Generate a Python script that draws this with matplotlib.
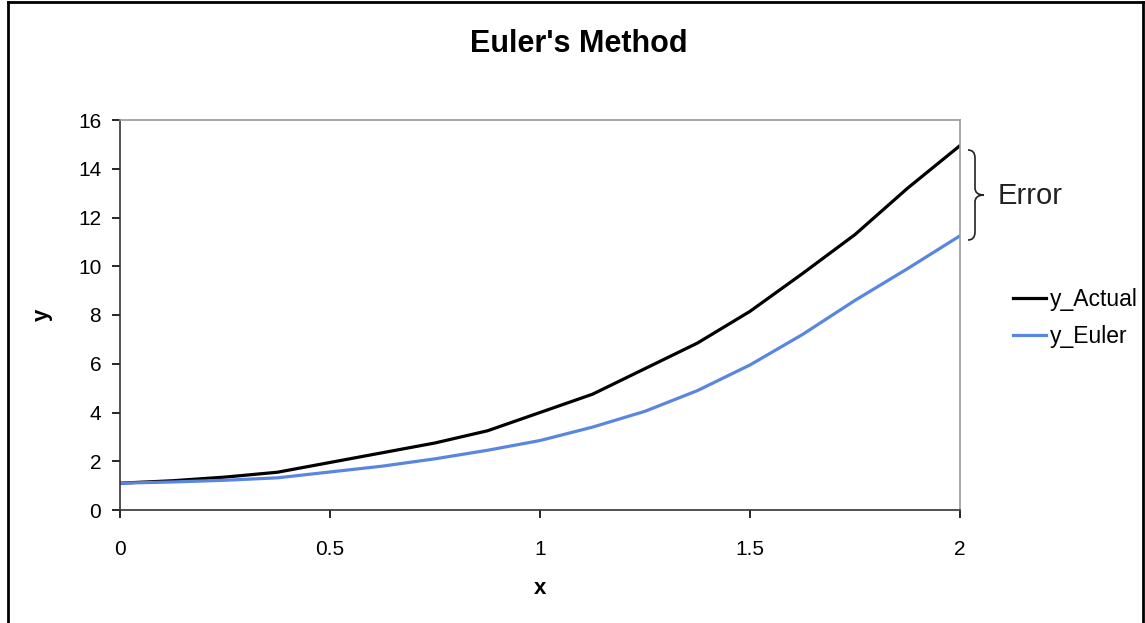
import matplotlib
matplotlib.use('Agg')
import matplotlib.pyplot as plt
from matplotlib.path import Path
from matplotlib.patches import PathPatch

x_vals = [0, 0.125, 0.25, 0.375, 0.5, 0.625, 0.75, 0.875, 1.0,
          1.125, 1.25, 1.375, 1.5, 1.625, 1.75, 1.875, 2.0]
y_actual = [1.1, 1.2, 1.35, 1.55, 1.95, 2.35, 2.75, 3.25, 4.0,
            4.75, 5.8, 6.85, 8.15, 9.7, 11.3, 13.2, 14.95]
y_euler = [1.1, 1.15, 1.22, 1.32, 1.56, 1.8, 2.1, 2.45, 2.85,
           3.4, 4.05, 4.9, 5.95, 7.2, 8.6, 9.9, 11.25]
x_ticks = [0, 0.5, 1, 1.5, 2]
x_tick_labels = ['0', '0.5', '1', '1.5', '2']
y_ticks = list(range(0, 17, 2))

plt.rcParams['font.family'] = ['Liberation Sans', 'DejaVu Sans']

W, H = 1145, 623
fig = plt.figure(figsize=(W / 100, H / 100), dpi=100)

def fx(px):
    return px / W

def fy(py):
    return 1 - py / H

ax = fig.add_axes([fx(120), fy(510), fx(960) - fx(120), fy(120) - fy(510)])

ax.plot(x_vals, y_actual, color='black', lw=2.3, label='y_Actual')
ax.plot(x_vals, y_euler, color='#5a86e0', lw=2.3, label='y_Euler')

ax.set_xlim(0, 2)
ax.set_ylim(0, 16)
ax.set_xticks(x_ticks)
ax.set_xticklabels(x_tick_labels)
ax.set_yticks(y_ticks)
ax.tick_params(axis='both', direction='out', length=5.5, width=1.2,
               labelsize=15, colors='black')
ax.tick_params(axis='y', pad=8)
ax.tick_params(axis='x', pad=16)
for side in ['left', 'bottom']:
    ax.spines[side].set_color('#333333')
    ax.spines[side].set_linewidth(1.2)
for side in ['top', 'right']:
    ax.spines[side].set_color('#999999')
    ax.spines[side].set_linewidth(1.2)

fig.text(fx(579), fy(44), "Euler's Method", ha='center', va='center',
         fontsize=22, fontweight='bold')
fig.text(fx(42), fy(315), 'y', ha='center', va='center', rotation=90,
         fontsize=16, fontweight='bold')
fig.text(fx(540), fy(589), 'x', ha='center', va='center',
         fontsize=16, fontweight='bold')

# brace marking the error at x = 2
verts = [(968, 150), (975, 150), (975, 158),
         (975, 188),
         (975, 195), (984, 195),
         (975, 195), (975, 202),
         (975, 232),
         (975, 240), (968, 240)]
codes = [Path.MOVETO, Path.CURVE3, Path.CURVE3,
         Path.LINETO,
         Path.CURVE3, Path.CURVE3,
         Path.CURVE3, Path.CURVE3,
         Path.LINETO,
         Path.CURVE3, Path.CURVE3]
brace = Path([(fx(a), fy(b)) for a, b in verts], codes)
fig.add_artist(PathPatch(brace, transform=fig.transFigure, fill=False,
                         edgecolor='#222222', lw=1.2))
fig.text(fx(998), fy(196), 'Error', ha='left', va='center', fontsize=21,
         color='#222222')

fig.legend(loc='upper left', bbox_to_anchor=(fx(1004), fy(279)),
           frameon=False, fontsize=16.5, handlelength=1.45, handletextpad=0.15,
           labelspacing=0.62, borderaxespad=0)

# outer frame
fig.add_artist(plt.Line2D([fx(8), fx(8)], [0, fy(2)], color='black',
                          lw=2, transform=fig.transFigure))
fig.add_artist(plt.Line2D([fx(8), fx(1143)], [fy(2), fy(2)], color='black',
                          lw=2, transform=fig.transFigure))
fig.add_artist(plt.Line2D([fx(1143), fx(1143)], [0, fy(2)], color='black',
                          lw=2, transform=fig.transFigure))

fig.savefig('out.png', dpi=100)
